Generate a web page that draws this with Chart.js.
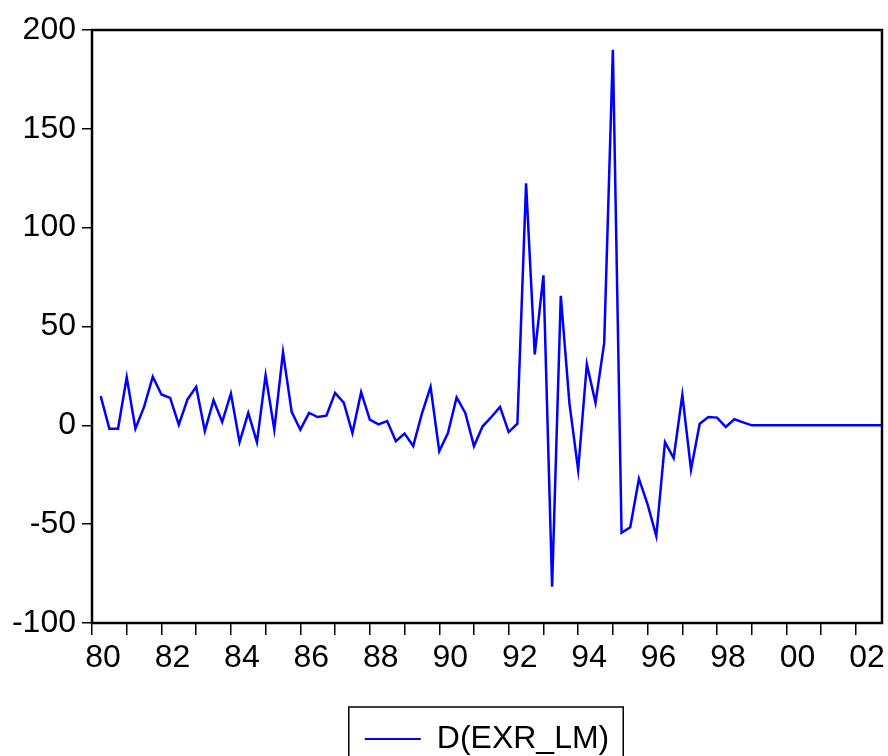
<!DOCTYPE html>
<html>
<head>
<meta charset="utf-8">
<script src="https://cdn.jsdelivr.net/npm/chart.js@4.4.1/dist/chart.umd.min.js"></script>
<style>
  html, body { margin: 0; padding: 0; background: #fff; overflow: hidden; }
  #wrap { width: 888px; height: 765px; }
</style>
</head>
<body>
<div id="wrap"><canvas id="exrChart"></canvas></div>
<script>
// D(EXR_LM), quarterly from 1980Q2 to 2002Q4
const seriesName = 'D(EXR_LM)';
const firstYear = 1980;
const firstQuarter = 2;
const exrDiff = [
    14.8, -1.7, -1.7, 24.3, -1.7, 9.3, 24.6, 15.6, 13.9, 0.3,
    13.1, 19.5, -2.9, 12.7, 1.7, 16.1, -8.5, 6.3, -8.5, 25.4,
    -2.2, 37.0, 6.8, -2.2, 6.3, 4.2, 4.9, 16.4, 11.5, -3.9,
    16.8, 2.9, 0.5, 2.2, -8.0, -4.2, -10.5, 5.9, 19.5, -13.1,
    -3.9, 14.1, 6.3, -10.5, -0.5, 4.2, 9.3, -3.4, 0.8, 122.5,
    35.9, 75.9, -81.6, 65.5, 11.0, -22.6, 30.9, 11.4, 41.7, 190.0,
    -54.4, -51.6, -27.0, -40.0, -56.0, -8.5, -16.6, 15.4, -22.4, 0.8,
    4.2, 3.9, -0.8, 3.1, 1.5, 0,
    0, 0, 0, 0, 0, 0, 0, 0, 0, 0, 0, 0, 0, 0, 0
];
const yearLabels = ['80', '82', '84', '86', '88', '90', '92', '94', '96', '98', '00', '02'];
const yMin = -100;
const yMax = 200;
const yStep = 50;

// x = quarters counted from 1980Q1
const points = exrDiff.map((v, i) => ({ x: firstQuarter - 1 + i, y: v }));
const lastX = firstQuarter - 1 + exrDiff.length - 1;

const font = { family: "'Liberation Sans', Arial, sans-serif", size: 32 };

const framePlugin = {
    id: 'frame',
    afterDraw(chart) {
        const { ctx, chartArea } = chart;
        ctx.save();
        ctx.strokeStyle = '#000';
        ctx.lineWidth = 2.5;
        ctx.strokeRect(chartArea.left, chartArea.top,
            chartArea.right - chartArea.left, chartArea.bottom - chartArea.top);
        // box round the legend entry
        const hb = chart.legend && chart.legend.legendHitBoxes[0];
        if (hb) {
            ctx.lineWidth = 1.5;
            ctx.strokeRect(hb.left - 16, hb.top - 16, hb.width + 30, 120);
        }
        ctx.restore();
    }
};

const config = {
    type: 'line',
    data: {
        datasets: [{
            label: seriesName,
            data: points,
            borderColor: '#0000ff',
            backgroundColor: '#0000ff',
            borderWidth: 2.5,
            pointRadius: 0,
            tension: 0,
            fill: false
        }]
    },
    options: {
        responsive: true,
        maintainAspectRatio: false,
        animation: false,
        layout: { padding: { top: 30, right: 6, left: 0, bottom: 0 } },
        scales: {
            x: {
                type: 'linear',
                min: 0,
                max: lastX,
                border: { display: false },
                grid: { drawOnChartArea: false, drawTicks: true, tickLength: 12, color: '#000', lineWidth: 1.5 },
                ticks: {
                    stepSize: 4,
                    autoSkip: false,
                    includeBounds: false,
                    maxRotation: 0,
                    labelOffset: 11,
                    padding: 4,
                    color: '#000',
                    font: font,
                    callback: (v) => {
                        const yr = v / 4;
                        return yr % 2 === 0 ? yearLabels[yr / 2] : '';
                    }
                },
                afterFit: (scale) => { scale.height = 84; }
            },
            y: {
                min: yMin,
                max: yMax,
                border: { display: false },
                grid: { drawOnChartArea: false, drawTicks: true, tickLength: 10, color: '#000', lineWidth: 1.5 },
                ticks: { stepSize: yStep, padding: 6, color: '#000', font: font },
                afterFit: (scale) => { scale.width = 92; }
            }
        },
        plugins: {
            tooltip: { enabled: false },
            legend: {
                position: 'bottom',
                fullSize: false,
                labels: {
                    color: '#000',
                    font: font,
                    boxWidth: 56,
                    boxHeight: 2,
                    padding: 16,
                    generateLabels: (chart) => Chart.defaults.plugins.legend.labels.generateLabels(chart)
                        .map(l => Object.assign(l, { lineWidth: 0 }))
                }
            }
        }
    },
    plugins: [framePlugin]
};

new Chart(document.querySelector('#exrChart'), config);
</script>
</body>
</html>
